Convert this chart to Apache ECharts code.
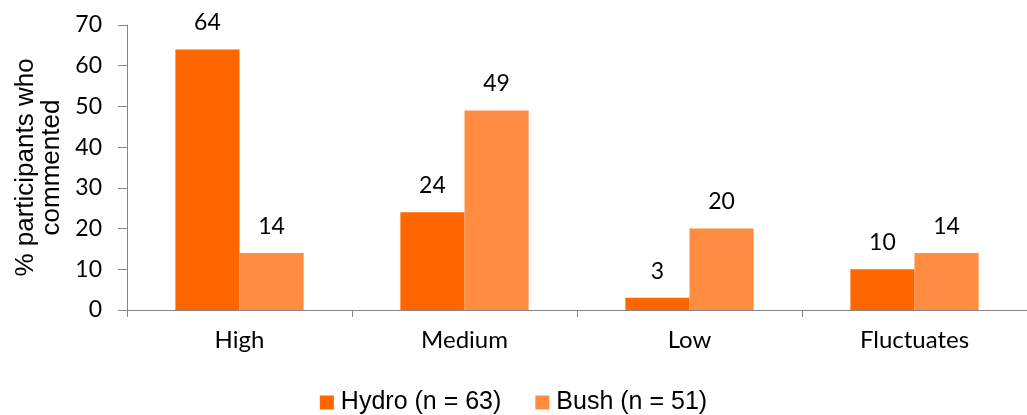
<!DOCTYPE html>
<html>
<head>
<meta charset="utf-8">
<script src="https://cdn.jsdelivr.net/npm/echarts@6/dist/echarts.min.js"></script>
<style>
  html, body { margin: 0; padding: 0; background: #fff; }
  #chart { width: 1027px; height: 415px; }
</style>
</head>
<body>
<div id="chart"></div>
<script>
// Share of participants who commented on each level, by group
const categories = ['High', 'Medium', 'Low', 'Fluctuates'];
const hydroValues = [64, 24, 3, 10];
const bushValues = [14, 49, 20, 14];
const seriesNames = ['Hydro (n = 63)', 'Bush (n = 51)'];
const yTicks = [0, 10, 20, 30, 40, 50, 60, 70];

const chart = echarts.init(document.getElementById('chart'));
const axisGrey = '#868686';
const labelFont = 'Lato, "Open Sans", sans-serif';
const sansFont = '"Liberation Sans", Arial, sans-serif';

chart.setOption({
  animation: false,
  grid: { left: 127, right: -8, top: 25, bottom: 105, containLabel: false },
  legend: {
    top: 385,
    left: 'center',
    itemWidth: 14,
    itemHeight: 14,
    itemGap: 34,
    icon: 'rect',
    textStyle: { fontFamily: sansFont, fontSize: 25, color: '#000', padding: [0, 0, 0, 2] },
    data: seriesNames
  },
  xAxis: {
    type: 'category',
    data: categories,
    axisLine: { lineStyle: { color: axisGrey, width: 1 } },
    axisTick: { show: true, length: 7, lineStyle: { color: axisGrey } },
    axisLabel: { fontFamily: labelFont, fontSize: 24, color: '#000', margin: 18 }
  },
  yAxis: {
    type: 'value',
    min: yTicks[0],
    max: yTicks[yTicks.length - 1],
    interval: 10,
    name: '% participants who\ncommented',
    nameLocation: 'middle',
    nameGap: 59,
    nameTextStyle: { fontFamily: sansFont, fontSize: 26, color: '#000', lineHeight: 26 },
    axisLine: { show: true, lineStyle: { color: axisGrey, width: 1 } },
    axisTick: { show: true, length: 9, lineStyle: { color: axisGrey } },
    splitLine: { show: false },
    axisLabel: { fontFamily: labelFont, fontSize: 23, color: '#000', margin: 25 }
  },
  series: [
    {
      name: seriesNames[0],
      type: 'bar',
      data: hydroValues,
      barGap: '0%',
      barCategoryGap: '43%',
      itemStyle: { color: '#FF6600' },
      label: { show: true, position: 'top', distance: 15, fontFamily: labelFont, fontSize: 23, color: '#000' }
    },
    {
      name: seriesNames[1],
      type: 'bar',
      data: bushValues,
      barGap: '0%',
      barCategoryGap: '43%',
      itemStyle: { color: '#FF8C40' },
      label: { show: true, position: 'top', distance: 15, fontFamily: labelFont, fontSize: 23, color: '#000' }
    }
  ]
});
</script>
</body>
</html>
